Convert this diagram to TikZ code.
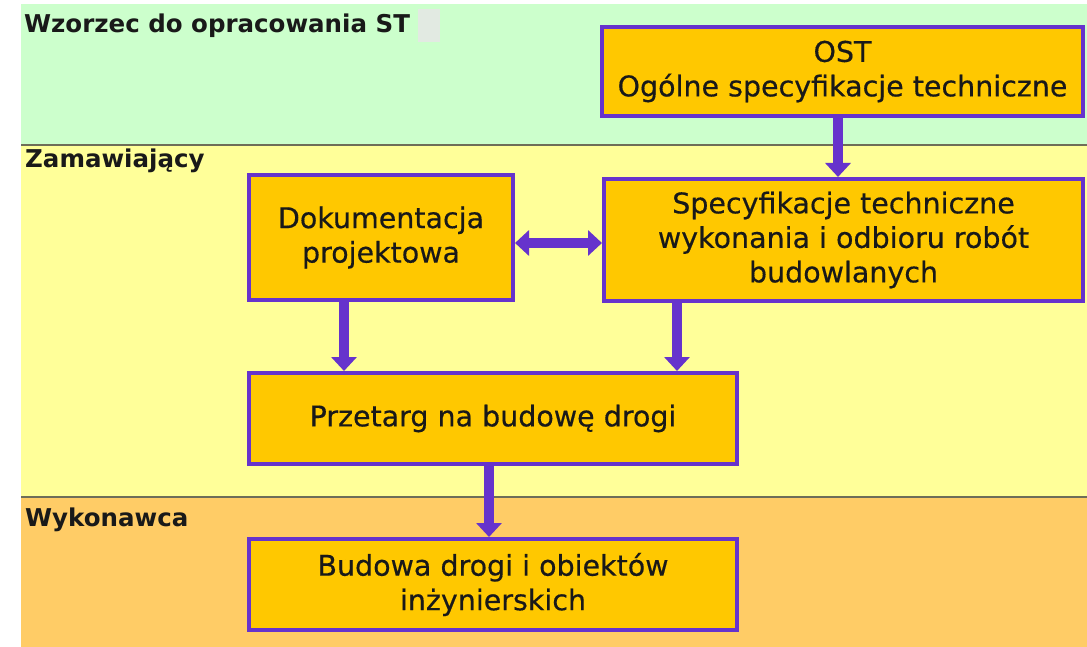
\documentclass[tikz,border=0pt]{standalone}
\usepackage{fontspec}
\setmainfont{DejaVu Sans}
\newfontfamily\boxfont[FakeBold=0.4]{DejaVu Sans}
\usetikzlibrary{arrows.meta}
\definecolor{bandgreen}{HTML}{CCFFCC}
\definecolor{bandyellow}{HTML}{FFFF99}
\definecolor{bandorange}{HTML}{FFCC66}
\definecolor{boxfill}{HTML}{FFC800}
\definecolor{boxborder}{HTML}{6633CC}
\definecolor{arrowcol}{HTML}{6633CC}
\definecolor{divline}{HTML}{6E6E58}
\definecolor{greyrect}{HTML}{E2EAE2}
\tikzset{
  boxnode/.style={draw=boxborder, line width=4pt, fill=boxfill, inner sep=0pt,
    align=center, text=black!90, font=\boxfont\fontsize{28.5}{34.5}\selectfont},
  bandlabel/.style={anchor=base west, inner sep=0pt, text=black!90,
    font=\bfseries\fontsize{24.5}{28}\selectfont},
  blockarrow/.style={draw=arrowcol, line width=9.5pt,
    -{Triangle[width=25pt,length=14pt]}},
  blockarrowboth/.style={draw=arrowcol, line width=9.5pt,
    {Triangle[width=25pt,length=14pt]}-{Triangle[width=25pt,length=14pt]}},
  divider/.style={draw=divline, line width=1.5pt}
}
\begin{document}
\begin{tikzpicture}[x=1pt, y=-1pt]
\useasboundingbox (0,0) rectangle (1087,647);
\fill[white] (0,0) rectangle (1087,647);
% bands
\fill[bandgreen] (21,4) rectangle (1087,145);
\fill[bandyellow] (21,145) rectangle (1087,497);
\fill[bandorange] (21,497) rectangle (1087,647);
\draw[divider] (21,145) -- (1087,145);
\draw[divider] (21,497) -- (1087,497);
% labels
\node[bandlabel] (lab1) at (24,33) {Wzorzec do opracowania ST};
\node[fill=greyrect, minimum width=22pt, minimum height=33pt, inner sep=0pt] (grey) at (429,25.5) {};
\node[bandlabel] (lab2) at (25,168) {Zamawiający};
\node[bandlabel] (lab3) at (25,526) {Wykonawca};
% boxes
\node[boxnode, minimum width=481pt, minimum height=89pt] (ost) at (842.5,71.5)
  {OST\\Ogólne specyfikacje techniczne};
\node[boxnode, minimum width=479pt, minimum height=122pt] (spec) at (843.5,240)
  {Specyfikacje techniczne\\wykonania i odbioru robót\\budowlanych};
\node[boxnode, minimum width=264pt, minimum height=125pt] (dok) at (381,237.5)
  {Dokumentacja\\projektowa};
\node[boxnode, minimum width=488pt, minimum height=91pt] (prz) at (493,418.5)
  {Przetarg na budowę drogi};
\node[boxnode, minimum width=488pt, minimum height=91pt] (bud) at (493,584.5)
  {Budowa drogi i obiektów\\inżynierskich};
% arrows
\draw[blockarrow] ([xshift=-4.5pt]ost.south) -- ([xshift=-4.5pt]ost.south |- spec.north);
\draw[blockarrowboth] ([yshift=-5.5pt]dok.east) -- ([yshift=-5.5pt]dok.east -| spec.west);
\draw[blockarrow] ([xshift=-37pt]dok.south) -- ([xshift=-37pt]dok.south |- prz.north);
\draw[blockarrow] ([xshift=-166.5pt]spec.south) -- ([xshift=-166.5pt]spec.south |- prz.north);
\draw[blockarrow] ([xshift=-4pt]prz.south) -- ([xshift=-4pt]prz.south |- bud.north);
\end{tikzpicture}
\end{document}
